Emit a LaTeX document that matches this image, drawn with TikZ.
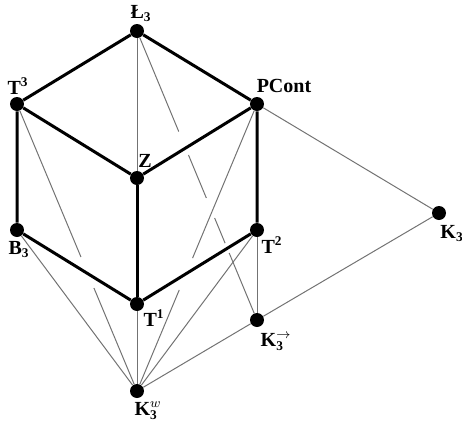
\documentclass[tikz,border=0pt]{standalone}
\usepackage{fontspec}
\setmainfont{Liberation Serif}
\usepackage{tikz}
\usetikzlibrary{calc}

\tikzset{
  dot/.style={circle, fill=black, inner sep=0pt, minimum size=8.4pt},
  lbl/.style={inner sep=0pt, font=\fontsize{12}{14}\selectfont\bfseries},
  edge/.style={line width=1.8pt},
  faint/.style={line width=0.6pt, black!55}
}

\begin{document}
\begin{tikzpicture}[x=0.6pt, y=-0.6pt]
    \useasboundingbox (0,0) rectangle (462,426);

    % lattice points
    \node[dot] (L3) at (137,31) {};
    \node[dot] (T3) at (17,104) {};
    \node[dot] (PCont) at (257,104) {};
    \node[dot] (Z) at (137,178) {};
    \node[dot] (B3) at (17,230) {};
    \node[dot] (T2) at (257,230) {};
    \node[dot] (T1) at (137,304) {};
    \node[dot] (K3arr) at (257,320) {};
    \node[dot] (K3w) at (137,391) {};
    \node[dot] (K3) at (439,213) {};

    % names
    \node[lbl] (L3l) at ($(L3)+(4,-17)$) {Ł$_{\mathbf{3}}$};
    \node[lbl] (T3l) at ($(T3)+(1,-18)$) {T\textsuperscript{3}};
    \node[lbl] (PContl) at ($(PCont)+(27,-18)$) {PCont};
    \node[lbl] (Zl) at ($(Z)+(8,-17)$) {Z};
    \node[lbl] (B3l) at ($(B3)+(2,20)$) {B$_{\mathbf{3}}$};
    \node[lbl] (T2l) at ($(T2)+(15,15)$) {T\textsuperscript{2}};
    \node[lbl] (T1l) at ($(T1)+(17,14)$) {T\textsuperscript{1}};
    \node[lbl] (K3arrl) at ($(K3arr)+(19,22)$) {K$^{\rightarrow}_{\mathbf{3}}$};
    \node[lbl] (K3wl) at ($(K3w)+(11,20)$) {K$^{w}_{\mathbf{3}}$};
    \node[lbl] (K3l) at ($(K3)+(13,21)$) {K$_{\mathbf{3}}$};

    % thin lines, broken where they pass behind
    \draw[faint] (L3) -- (Z);
    \draw[faint] (T1) -- (K3w);
    \draw[faint] (T2) -- (K3arr);
    \draw[faint] (B3) -- (K3w);
    \draw[faint] (T2) -- (K3w);
    \draw[faint] (PCont) -- (K3);
    \draw[faint] (K3w) -- (K3arr) -- (K3);
    \draw[faint] (L3) -- ($(L3)!0.348!(K3arr)$)
                 ($(L3)!0.429!(K3arr)$) -- ($(L3)!0.578!(K3arr)$)
                 ($(L3)!0.647!(K3arr)$) -- ($(L3)!0.734!(K3arr)$)
                 ($(L3)!0.768!(K3arr)$) -- (K3arr);
    \draw[faint] (T3) -- ($(T3)!0.533!(K3w)$)
                 ($(T3)!0.641!(K3w)$) -- (K3w);
    \draw[faint] (PCont) -- ($(PCont)!0.537!(K3w)$)
                 ($(PCont)!0.648!(K3w)$) -- (K3w);

    % the cube
    \draw[edge] (T3) -- (L3) -- (PCont) -- (Z) -- (T3);
    \draw[edge] (T3) -- (B3) -- (T1) -- (T2) -- (PCont);
    \draw[edge] (Z) -- (T1);
\end{tikzpicture}
\end{document}
